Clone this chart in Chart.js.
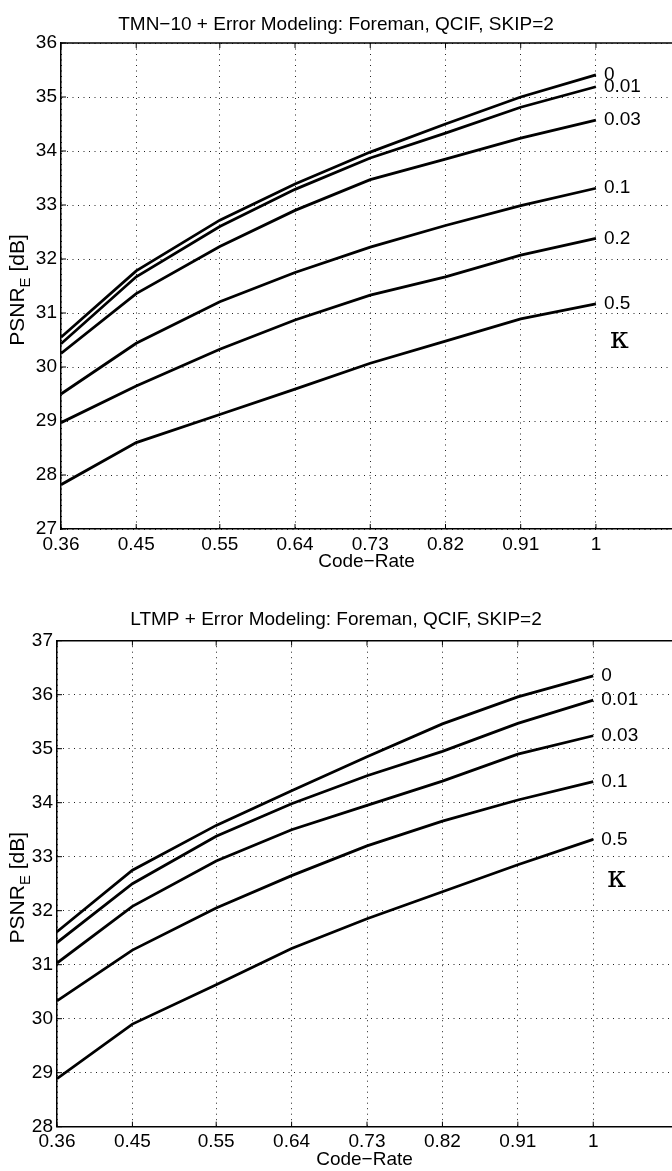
<!DOCTYPE html>
<html>
<head>
<meta charset="utf-8">
<script src="https://cdn.jsdelivr.net/npm/chart.js@4.4.1/dist/chart.umd.min.js"></script>
<style>
	html, body { margin: 0; padding: 0; background: #fff; }
	#box-tmn { position: absolute; left: 0; top: 0; width: 672px; height: 590px; }
	#box-ltmp { position: absolute; left: 0; top: 590px; width: 672px; height: 581px; }
</style>
</head>
<body>
<div id="box-tmn"><canvas id="psnr-tmn"></canvas></div>
<div id="box-ltmp"><canvas id="psnr-ltmp"></canvas></div>
<script>
// code-rate ticks (x) shared by both plots
var code_rate = [0.36, 0.45, 0.55, 0.64, 0.73, 0.82, 0.91, 1];

// TMN-10 plot, one curve per kappa
var tmn_kappa = ["0", "0.01", "0.03", "0.1", "0.2", "0.5"];
var tmn_k0    = [30.55, 31.78, 32.72, 33.39, 33.98, 34.50, 35.00, 35.41];
var tmn_k001  = [30.43, 31.67, 32.60, 33.29, 33.87, 34.33, 34.81, 35.19];
var tmn_k003  = [30.25, 31.36, 32.23, 32.90, 33.47, 33.85, 34.24, 34.57];
var tmn_k01   = [29.50, 30.44, 31.21, 31.75, 32.22, 32.62, 32.99, 33.31];
var tmn_k02   = [28.97, 29.65, 30.33, 30.87, 31.33, 31.67, 32.07, 32.38];
var tmn_k05   = [27.82, 28.60, 29.12, 29.59, 30.07, 30.48, 30.89, 31.17];

// LTMP plot
var ltmp_kappa = ["0", "0.01", "0.03", "0.1", "0.5"];
var ltmp_k0    = [31.61, 32.75, 33.58, 34.22, 34.85, 35.46, 35.96, 36.35];
var ltmp_k001  = [31.41, 32.50, 33.38, 33.98, 34.50, 34.95, 35.47, 35.90];
var ltmp_k003  = [31.03, 32.08, 32.92, 33.50, 33.95, 34.40, 34.90, 35.24];
var ltmp_k01   = [30.33, 31.27, 32.05, 32.65, 33.20, 33.66, 34.05, 34.39];
var ltmp_k05   = [28.89, 29.90, 30.63, 31.30, 31.85, 32.35, 32.85, 33.32];

var FONT = "'Liberation Sans', Arial, Helvetica, sans-serif";

// axis box ticks, curve labels, kappa and the y label with subscript
var decor = {
	id: 'decor',
	afterDraw: function(chart) {
		var ctx = chart.ctx;
		var a = chart.chartArea;
		var xs = chart.scales.x, ys = chart.scales.y;
		var o = chart.options.plugins.decor;
		ctx.save();
		ctx.strokeStyle = '#000';
		ctx.lineWidth = 1.5;
		ctx.beginPath();
		ctx.moveTo(a.left, a.top);
		ctx.lineTo(a.right, a.top);
		ctx.stroke();
		ctx.lineWidth = 1;
		ctx.beginPath();
		xs.ticks.forEach(function(t) {
			var px = xs.getPixelForValue(t.value);
			ctx.moveTo(px, a.bottom); ctx.lineTo(px, a.bottom - 5);
			ctx.moveTo(px, a.top); ctx.lineTo(px, a.top + 5);
		});
		ys.ticks.forEach(function(t) {
			var py = ys.getPixelForValue(t.value);
			ctx.moveTo(a.left, py); ctx.lineTo(a.left + 5, py);
		});
		ctx.stroke();

		// curve labels at the right end
		ctx.fillStyle = '#000';
		ctx.font = '19px ' + FONT;
		ctx.textAlign = 'left';
		ctx.textBaseline = 'middle';
		var lastY = 0, lastX = 0;
		chart.data.datasets.forEach(function(ds, i) {
			var pts = chart.getDatasetMeta(i).data;
			var p = pts[pts.length - 1];
			ctx.fillText(ds.label, p.x + 8, p.y);
			lastY = p.y; lastX = p.x;
		});
		ctx.font = '30px "DejaVu Serif", serif';
		ctx.fillText('\u03BA', lastX + 14, lastY + o.kappaGap);

		// y axis title: PSNR_E [dB]
		ctx.translate(o.yTitleX, (a.top + a.bottom) / 2 + o.yTitleShift);
		ctx.rotate(-Math.PI / 2);
		ctx.font = '21px ' + FONT;
		var w1 = ctx.measureText('PSNR').width;
		var w3 = ctx.measureText(' [dB]').width;
		ctx.font = '15px ' + FONT;
		var w2 = ctx.measureText('E').width;
		var s = -(w1 + w2 + w3) / 2;
		ctx.font = '21px ' + FONT;
		ctx.fillText('PSNR', s, 0);
		ctx.fillText(' [dB]', s + w1 + w2, 0);
		ctx.font = '15px ' + FONT;
		ctx.fillText('E', s + w1, 8);
		ctx.restore();
	}
};

function psnrChart(id, title, kappa, curves, ymin, ymax, xmax, leftW, xH, tPad, xtPad, kappaGap) {
	var datasets = [];
	for (var i = 0; i < curves.length; i++) {
		datasets.push({
			label: kappa[i],
			data: code_rate.map(function(r, j) { return {x: r, y: curves[i][j]}; }),
			borderColor: '#000',
			borderWidth: 2.8,
			pointRadius: 0,
			tension: 0,
			fill: false
		});
	}
	var tickFont = {family: FONT, size: 19};
	return new Chart(document.getElementById(id), {
		type: 'line',
		data: {datasets: datasets},
		options: {
			responsive: true,
			maintainAspectRatio: false,
			animation: false,
			layout: {padding: 0},
			plugins: {
				legend: {display: false},
				tooltip: {enabled: false},
				title: {
					display: true,
					text: title,
					color: '#000',
					font: {family: FONT, size: 19, weight: 'normal'},
					padding: tPad
				},
				decor: {kappaGap: kappaGap, yTitleX: 18, yTitleShift: 4}
			},
			scales: {
				x: {
					type: 'linear',
					min: 0.36,
					max: xmax,
					afterBuildTicks: function(s) {
						s.ticks = code_rate.map(function(v) { return {value: v}; });
					},
					afterFit: function(s) { s.height = xH; },
					ticks: {
						color: '#000', font: tickFont, padding: 4, maxRotation: 0, autoSkip: false,
						callback: function(v) { return String(v); }
					},
					grid: {color: '#222', lineWidth: 1, drawTicks: false},
					border: {display: true, color: '#000', width: 1.5, dash: [1, 4.5]},
					title: {
						display: true, text: 'Code\u2212Rate', color: '#000',
						font: tickFont, padding: xtPad
					}
				},
				y: {
					min: ymin,
					max: ymax,
					afterFit: function(s) { s.width = leftW; },
					ticks: {color: '#000', font: tickFont, stepSize: 1, padding: 4},
					grid: {color: '#222', lineWidth: 1, drawTicks: false},
					border: {display: true, color: '#000', width: 1.5, dash: [1, 4.5]}
				}
			}
		},
		plugins: [decor]
	});
}

psnrChart('psnr-tmn', 'TMN\u221210 + Error Modeling: Foreman, QCIF, SKIP=2', tmn_kappa,
	[tmn_k0, tmn_k001, tmn_k003, tmn_k01, tmn_k02, tmn_k05],
	27, 36, 1.091, 61, 61, {top: 13.6, bottom: 6.6}, {top: 0, bottom: 17}, 36);

psnrChart('psnr-ltmp', 'LTMP + Error Modeling: Foreman, QCIF, SKIP=2', ltmp_kappa,
	[ltmp_k0, ltmp_k001, ltmp_k003, ltmp_k01, ltmp_k05],
	28, 37, 1.094, 57, 44.3, {top: 18.6, bottom: 9.3}, {top: 0, bottom: 0}, 40);
</script>
</body>
</html>
